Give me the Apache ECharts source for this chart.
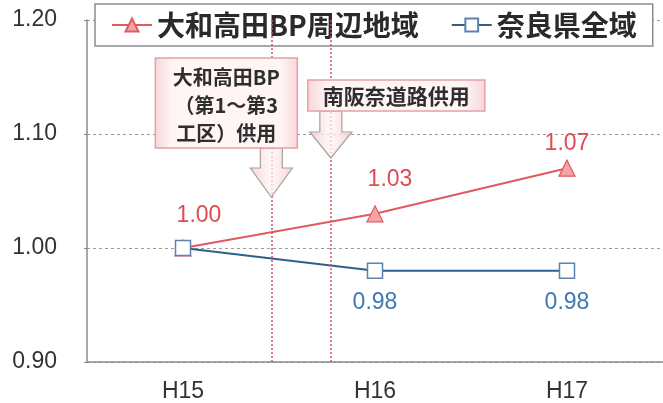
<!DOCTYPE html>
<html>
<head>
<meta charset="utf-8">
<script src="https://cdn.jsdelivr.net/npm/echarts@6/dist/echarts.min.js"></script>
<style>
  html, body { margin: 0; padding: 0; background: #fff; }
  #main { width: 663px; height: 403px; }
</style>
</head>
<body>
<div id="main"></div>
<script>
// Fiscal years on the category axis
const categories = ['H15', 'H16', 'H17'];
// Traffic index, base year H15 = 1.00
const bpArea = [1.00, 1.03, 1.07];   // 大和高田BP周辺地域
const naraAll = [1.00, 0.98, 0.98];  // 奈良県全域
const seriesNames = ['大和高田BP周辺地域', '奈良県全域'];
// Value axis range and step
const yMin = 0.90, yMax = 1.20, yStep = 0.10;
// Road openings, placed in category units between the years
const eventPos = [0.46, 0.77];
const eventText = [
  ['大和高田BP', '（第1～第3', '工区）供用'],
  ['南阪奈道路供用']
];

const numFont = 'Liberation Sans, Arial, sans-serif';
const jpFont = 'Noto Sans CJK JP, sans-serif';
const RED = '#e05a5e';
const BLUE = '#2f5f8c';

const chart = echarts.init(document.getElementById('main'), null, { renderer: 'canvas' });

// per-point label tweaks for the red series
const redLabelOffsets = [[16, 0], [15, -2], [0, 8]];

chart.setOption({
  animation: false,
  grid: { left: 87, right: 0, top: 20, bottom: 41, outerBoundsMode: 'none' },
  legend: {
    left: 95, top: 4,
    padding: [7, 16, 7, 16],
    itemGap: 32,
    itemWidth: 40, itemHeight: 16,
    backgroundColor: '#fff',
    borderColor: '#8c8c8c', borderWidth: 1.5,
    textStyle: { fontFamily: jpFont, fontSize: 28, fontWeight: 'bold', color: '#2a2a2a' },
    data: seriesNames
  },
  xAxis: [{
    type: 'category',
    data: categories,
    boundaryGap: true,
    axisLine: { lineStyle: { color: '#8a8a8a', width: 1.5 } },
    axisTick: { inside: true, length: 6, lineStyle: { color: '#888' } },
    axisLabel: { fontFamily: numFont, fontSize: 23, color: '#333', margin: 18 }
  }, {
    type: 'value', min: -0.5, max: 2.5, show: false
  }],
  yAxis: {
    type: 'value',
    min: yMin, max: yMax, interval: yStep,
    axisLine: { show: true, onZero: false, lineStyle: { color: '#8a8a8a', width: 1.5 } },
    axisTick: { show: true, length: 3, lineStyle: { color: '#888' } },
    splitLine: { show: true, lineStyle: { color: '#9a9a9a', type: [3, 3], width: 1 } },
    axisLabel: {
      fontFamily: numFont, fontSize: 23, color: '#333', margin: 30,
      formatter: v => v.toFixed(2)
    }
  },
  series: [{
    name: seriesNames[0],
    type: 'line',
    data: bpArea.map((v, i) => ({
      value: v,
      label: { offset: redLabelOffsets[i] }
    })),
    symbol: 'triangle', symbolSize: 16,
    itemStyle: { color: '#f4a3a6', borderColor: RED, borderWidth: 1.2 },
    lineStyle: { color: RED, width: 2 },
    label: {
      show: true, position: 'top', distance: 12,
      fontFamily: numFont, fontSize: 23, color: '#e04a4e',
      formatter: p => p.value.toFixed(2)
    },
    z: 3
  }, {
    name: seriesNames[1],
    type: 'line',
    data: naraAll.map((v, i) => ({
      value: v,
      label: { show: i > 0 }
    })),
    symbol: 'rect', symbolSize: 15,
    itemStyle: { color: '#ffffff', borderColor: '#5d83ad', borderWidth: 1.5 },
    lineStyle: { color: BLUE, width: 2 },
    label: {
      show: true, position: 'bottom', distance: 12,
      fontFamily: numFont, fontSize: 23, color: '#3f78b5',
      formatter: p => p.value.toFixed(2)
    },
    z: 4
  }, {
    // opening dates as vertical dotted lines
    type: 'line',
    xAxisIndex: 1,
    data: [],
    markLine: {
      silent: true,
      symbol: 'none',
      label: { show: false },
      lineStyle: { color: '#d0505c', type: [2, 2], width: 1.5 },
      data: eventPos.map(p => ({ xAxis: p }))
    },
    z: 2
  }]
});

// Callout boxes with down arrows, anchored to the opening lines
function arrowPoints(cx, yTop, yHead, yTip) {
  const s = 11, h = 21;
  return [[cx - s, yTop], [cx + s, yTop], [cx + s, yHead], [cx + h, yHead],
          [cx, yTip], [cx - h, yHead], [cx - s, yHead]];
}
const boxFill = new echarts.graphic.LinearGradient(0, 0, 1, 0, [
  { offset: 0, color: '#f7d6d9' }, { offset: 0.12, color: '#fff5f5' },
  { offset: 0.88, color: '#fff5f5' }, { offset: 1, color: '#f7d6d9' }
]);
const arrowFill = new echarts.graphic.LinearGradient(0, 0, 1, 0, [
  { offset: 0, color: 'rgba(246,205,208,0.85)' }, { offset: 0.5, color: 'rgba(255,245,245,0.75)' },
  { offset: 1, color: 'rgba(246,205,208,0.85)' }
]);
const boxes = [
  { dx0: -116, dx1: 26, y0: 58, y1: 148, yHead: 168, yTip: 197, lineY: [77, 105, 133], size: 20 },
  { dx0: -23, dx1: 154, y0: 80, y1: 111, yHead: 132, yTip: 158, lineY: [96], size: 21 }
];
const graphics = [];
eventPos.forEach((p, i) => {
  const cx = chart.convertToPixel({ xAxisIndex: 1 }, p);
  const b = boxes[i];
  graphics.push({
    type: 'polygon', z: 10,
    shape: { points: arrowPoints(cx, b.y1, b.yHead, b.yTip) },
    style: { fill: arrowFill, stroke: '#a8a0a0', lineWidth: 1.2 }
  });
  graphics.push({
    type: 'rect', z: 11,
    shape: { x: cx + b.dx0, y: b.y0, width: b.dx1 - b.dx0, height: b.y1 - b.y0 },
    style: { fill: boxFill, stroke: '#e3a1a7', lineWidth: 1.5 }
  });
  eventText[i].forEach((t, k) => {
    graphics.push({
      type: 'text', z: 12,
      x: cx + (b.dx0 + b.dx1) / 2, y: b.lineY[k],
      style: {
        text: t, fontFamily: jpFont, fontSize: b.size, fontWeight: 'bold', fill: '#2e2e2e',
        align: 'center', verticalAlign: 'middle'
      }
    });
  });
});
chart.setOption({ graphic: graphics });
</script>
</body>
</html>
